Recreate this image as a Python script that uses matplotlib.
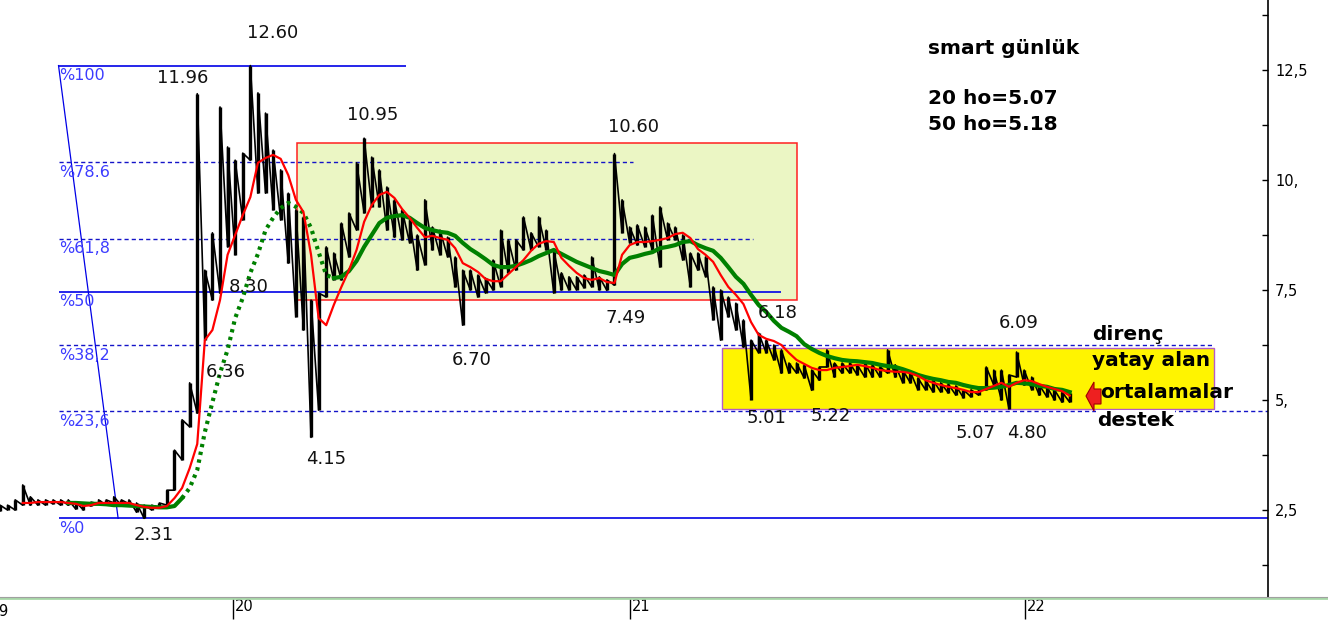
import numpy as np
import pandas as pd
import matplotlib
matplotlib.use('Agg')
import matplotlib.pyplot as plt
import matplotlib.dates as mdates
import matplotlib.transforms as mtrans
from matplotlib.patches import Rectangle, Polygon
from matplotlib.lines import Line2D

W, H = 1328, 620
nan = np.nan

# weekly price ranges
weeks = pd.date_range('2019-05-31', periods=142, freq='7D')
week_low = [2.48, 2.50, 2.50, 2.61, 2.61, 2.61, 2.61, 2.64, 2.61, 2.61,
            2.52, 2.50, 2.59, 2.64, 2.61, 2.66, 2.61, 2.64, 2.45, 2.31,
            2.50, 2.55, 2.61, 2.95, 3.64, 4.39, 4.70, 6.36, 7.27, 7.43,
            8.48, 8.30, 9.09, 10.45, 9.70, 9.70, 9.32, 9.09, 8.11, 6.89,
            6.59, 4.15, 4.77, 7.34, 7.73, 7.73, 8.25, 8.86, 9.25, 9.39,
            9.39, 8.86, 8.70, 8.64, 8.57, 7.95, 8.07, 8.41, 8.30, 8.25,
            7.57, 6.70, 7.50, 7.34, 7.43, 7.50, 7.57, 7.89, 7.95, 8.41,
            8.41, 8.48, 8.41, 7.43, 7.50, 7.50, 7.50, 7.55, 7.57, 7.50,
            7.49, 7.61, 8.80, 8.57, 8.52, 8.48, 8.41, 8.02, 8.64, 8.64,
            8.18, 7.57, 7.95, 7.80, 6.82, 6.36, 6.89, 6.59, 6.20, 5.01,
            6.07, 6.07, 5.91, 5.61, 5.61, 5.61, 5.50, 5.22, 5.45, 5.75,
            5.52, 5.61, 5.61, 5.57, 5.52, 5.52, 5.52, 5.61, 5.52, 5.39,
            5.39, 5.23, 5.23, 5.18, 5.18, 5.16, 5.11, 5.05, 5.07, 5.11,
            5.23, 5.34, 5.00, 4.80, 5.52, 5.34, 5.23, 5.11, 5.07, 5.00,
            4.95, 4.95]
week_high = [2.61, 2.61, 2.73, 3.07, 2.80, 2.73, 2.73, 2.73, 2.73, 2.73,
             2.68, 2.66, 2.68, 2.73, 2.73, 2.80, 2.73, 2.73, 2.66, 2.61,
             2.61, 2.66, 2.95, 3.86, 4.55, 5.39, 11.96, 7.95, 8.80, 11.66,
             10.75, 10.45, 10.61, 12.60, 11.98, 11.52, 10.68, 10.23, 9.70, 9.32,
             9.16, 7.27, 7.43, 8.48, 8.34, 9.02, 9.25, 10.39, 10.95, 10.52,
             10.23, 9.84, 9.55, 9.32, 9.09, 8.75, 9.55, 8.93, 8.86, 8.70,
             8.25, 7.95, 7.95, 7.84, 7.77, 8.18, 8.86, 8.64, 8.64, 9.16,
             8.80, 9.16, 8.86, 8.41, 7.89, 7.80, 7.80, 7.84, 8.25, 7.80,
             7.73, 10.60, 9.55, 8.93, 8.98, 8.93, 9.20, 9.39, 9.02, 8.93,
             8.75, 8.34, 8.34, 8.25, 7.57, 7.50, 7.34, 7.20, 6.82, 6.36,
             6.52, 6.36, 6.25, 6.14, 5.84, 5.84, 5.80, 5.68, 5.75, 6.14,
             5.84, 5.84, 5.84, 5.80, 5.84, 5.80, 5.75, 6.14, 5.80, 5.68,
             5.64, 5.50, 5.45, 5.45, 5.39, 5.36, 5.32, 5.23, 5.23, 5.30,
             5.75, 5.68, 5.68, 5.57, 6.09, 5.68, 5.52, 5.34, 5.30, 5.23,
             5.18, 5.16]

# moving averages (20 and 50 day)
ma20 = [nan] * 3 + [
    2.66, 2.66, 2.68, 2.68, 2.68, 2.68, 2.66, 2.64, 2.59, 2.61,
    2.66, 2.66, 2.66, 2.66, 2.66, 2.61, 2.57, 2.55, 2.55, 2.59,
    2.77, 3.00, 3.45, 4.00, 6.36, 6.59, 7.27, 8.30, 8.75, 9.20,
    9.61, 10.39, 10.50, 10.57, 10.48, 10.11, 9.55, 9.27, 8.30, 6.86,
    6.70, 7.16, 7.57, 7.95, 8.41, 9.05, 9.43, 9.66, 9.73, 9.59,
    9.34, 9.14, 8.91, 8.70, 8.73, 8.68, 8.64, 8.45, 8.11, 8.02,
    7.91, 7.75, 7.70, 7.70, 7.86, 8.02, 8.18, 8.39, 8.55, 8.61,
    8.59, 8.23, 8.05, 7.89, 7.77, 7.73, 7.77, 7.68, 7.66, 8.30,
    8.52, 8.59, 8.59, 8.61, 8.64, 8.68, 8.77, 8.80, 8.68, 8.43,
    8.30, 8.14, 7.84, 7.57, 7.39, 7.18, 6.77, 6.48, 6.39, 6.34,
    6.25, 6.07, 5.91, 5.82, 5.73, 5.68, 5.68, 5.73, 5.75, 5.77,
    5.80, 5.77, 5.73, 5.68, 5.66, 5.64, 5.64, 5.61, 5.55, 5.45,
    5.39, 5.34, 5.30, 5.27, 5.23, 5.18, 5.18, 5.25, 5.32, 5.39,
    5.30, 5.39, 5.45, 5.43, 5.36, 5.30, 5.25, 5.20, 5.10]
ma50 = [nan] * 9 + [
    2.66, 2.66, 2.65, 2.64, 2.64, 2.63, 2.61, 2.61, 2.60, 2.59,
    2.58, 2.57, 2.56, 2.56, 2.59, 2.77, 3.00, 3.41, 4.27, 4.95,
    5.61, 6.14, 6.86, 7.32, 7.89, 8.32, 8.86, 9.14, 9.36, 9.48,
    9.39, 9.25, 8.91, 8.36, 7.84, 7.77, 7.80, 7.93, 8.16, 8.48,
    8.75, 9.02, 9.14, 9.18, 9.20, 9.14, 9.02, 8.91, 8.86, 8.82,
    8.80, 8.73, 8.57, 8.43, 8.32, 8.20, 8.07, 8.02, 8.02, 8.05,
    8.11, 8.18, 8.27, 8.34, 8.41, 8.32, 8.23, 8.14, 8.07, 8.00,
    7.93, 7.89, 7.84, 8.09, 8.23, 8.27, 8.32, 8.36, 8.45, 8.48,
    8.52, 8.59, 8.61, 8.52, 8.45, 8.39, 8.23, 8.02, 7.80, 7.64,
    7.39, 7.16, 7.00, 6.80, 6.64, 6.55, 6.45, 6.27, 6.16, 6.07,
    6.00, 5.95, 5.91, 5.89, 5.88, 5.86, 5.84, 5.80, 5.77, 5.75,
    5.70, 5.64, 5.57, 5.52, 5.48, 5.45, 5.41, 5.39, 5.34, 5.30,
    5.27, 5.27, 5.28, 5.30, 5.34, 5.39, 5.38, 5.36, 5.32, 5.30,
    5.25, 5.23, 5.18]

fib_high, fib_low = 12.60, 2.31
fib_pcts = [100, 78.6, 61.8, 50, 38.2, 23.6, 0]
fib_names = ['%100', '%78.6', '%61,8', '%50', '%38,2', '%23,6', '%0']

box_range = (7.27, 10.85)      # red framed range
band_range = (4.80, 6.18)      # yellow support/resistance band

price_notes = [('12.60', 273, 33), ('11.96', 183, 78), ('10.95', 373, 115),
               ('10.60', 633, 127), ('8.30', 249, 287), ('6.36', 226, 372),
               ('4.15', 326, 459), ('2.31', 154, 535), ('6.70', 472, 360),
               ('7.49', 626, 318), ('6.18', 778, 313), ('6.09', 1019, 323),
               ('5.01', 767, 418), ('5.22', 831, 416), ('5.07', 976, 433),
               ('4.80', 1027, 433)]

ytick_vals = [2.5, 5, 7.5, 10, 12.5]
ytick_text = ['2,5', '5,', '7,5', '10,', '12,5']


def fxy(px, py):
    return px / W, 1 - py / H


d = mdates.date2num
x_left, x_right = pd.Timestamp('2019-05-31'), pd.Timestamp('2022-08-13')

fig = plt.figure(figsize=(W / 100, H / 100), dpi=100)
ax = fig.add_axes([0, 22 / H, 1268 / W, 598 / H])

# boxes
b0, b1 = d(pd.Timestamp('2020-02-29')), d(pd.Timestamp('2021-06-04'))
ax.add_patch(Rectangle((b0, box_range[0]), b1 - b0, box_range[1] - box_range[0],
                       facecolor='#ebf6c4', edgecolor='#ff2020', lw=1.1, zorder=1))
y0, y1 = d(pd.Timestamp('2021-03-27')), d(pd.Timestamp('2022-06-24'))
ax.add_patch(Rectangle((y0, band_range[0]), y1 - y0, band_range[1] - band_range[0],
                       facecolor='#fff400', edgecolor='#b45cc8', lw=1.0, zorder=1))

# fibonacci retracement
fib_start = d(pd.Timestamp('2019-07-24'))
fib_ends = ['2020-06-09', '2021-01-04', '2021-04-25', '2021-05-21',
            '2022-06-24', '2022-08-13', '2022-08-13']
for p, end in zip(fib_pcts, fib_ends):
    lvl = fib_low + p / 100 * (fib_high - fib_low)
    solid = p in (100, 50, 0)
    ax.hlines(lvl, fib_start, d(pd.Timestamp(end)), colors='#0000e6' if solid else '#1414c8',
              lw=1.2 if solid else 1.0, linestyles='-' if solid else (0, (3, 2.2)), zorder=2)
ax.plot([fib_start, d(pd.Timestamp('2019-09-17'))], [fib_high, fib_low],
        color='#0000e6', lw=0.9, zorder=2)

# price bars
wx = d(weeks)
ax.vlines(wx, week_low, week_high, colors='black', lw=2.4, zorder=3)
zig_x = np.repeat(wx, 2)
zig_y = np.column_stack([week_low, week_high]).ravel()
ax.plot(zig_x, zig_y, color='black', lw=1.2, zorder=3)

# moving averages
ax.plot(wx, ma20, color='#ff0000', lw=1.6, zorder=5)
g = np.array(ma50)
ax.plot(wx[:25], g[:25], color='#008000', lw=3, zorder=4)
ax.plot(wx[24:45], g[24:45], color='#008000', lw=3, zorder=4,
        linestyle=(0, (0.8, 1.1)))
ax.plot(wx[44:], g[44:], color='#008000', lw=3, zorder=4)

ax.set_xlim(d(x_left), d(x_right))
ax.set_ylim(0.5, 14.09)

for s in ['top', 'left', 'bottom']:
    ax.spines[s].set_visible(False)
ax.spines['right'].set_linewidth(1.2)
ax.yaxis.tick_right()
ax.set_yticks(ytick_vals)
ax.set_yticklabels(ytick_text)
ax.set_yticks([1.25, 3.75, 6.25, 8.75, 11.25, 13.75], minor=True)
ax.tick_params(axis='y', which='both', direction='in', length=4, width=1,
               labelsize=10.5, pad=5)
years = [pd.Timestamp('2020-01-01'), pd.Timestamp('2021-01-01'), pd.Timestamp('2022-01-01')]
ax.set_xticks(d(years))
ax.set_xticklabels(['20', '21', '22'], ha='left')
ax.tick_params(axis='x', direction='out', length=15, width=1, labelsize=10.5, pad=-14)
for lab in ax.get_xticklabels():
    lab.set_transform(lab.get_transform() + mtrans.ScaledTranslation(2 / 100, 0, fig.dpi_scale_trans))

fig.add_artist(Line2D([0, 1], [1 - 598 / H, 1 - 598 / H], color='#a8d8a8', lw=2))
fig.add_artist(Line2D([0, 1], [1 - 597 / H, 1 - 597 / H], color='#a0a0a0', lw=0.8))
fig.text(*fxy(-2, 612), '9', fontsize=10.5, ha='left', va='center')

# fibonacci labels
for p, name in zip(fib_pcts, fib_names):
    lvl = fib_low + p / 100 * (fib_high - fib_low)
    py = 510 - (lvl - 2.5) * 44 + 10
    fig.text(*fxy(59, py), name, color='#3c3cff', fontsize=11.5, ha='left', va='center')

for txt, px, py in price_notes:
    fig.text(*fxy(px, py), txt, fontsize=13, ha='center', va='center', color='#111111')

bold = dict(fontsize=14.5, fontweight='bold', ha='left', va='center', color='black')
fig.text(*fxy(928, 49), 'smart günlük', **bold)
fig.text(*fxy(928, 99), '20 ho=5.07', **bold)
fig.text(*fxy(928, 124), '50 ho=5.18', **bold)
fig.text(*fxy(1092, 334), 'direnç', **bold)
fig.text(*fxy(1092, 361), 'yatay alan', **bold)
fig.text(*fxy(1100, 393), 'ortalamalar', **bold)
fig.text(*fxy(1097, 421), 'destek', bbox=dict(facecolor='white', edgecolor='none', pad=1), **bold)

arrow_px = [(1086, 396), (1094, 382), (1094, 389), (1101, 389), (1101, 404), (1094, 404), (1094, 411)]
fig.add_artist(Polygon([fxy(x, y) for x, y in arrow_px], closed=True, transform=fig.transFigure,
                       facecolor='#ee2020', edgecolor='#a00000', lw=0.8))

fig.savefig('out.png', dpi=100)
